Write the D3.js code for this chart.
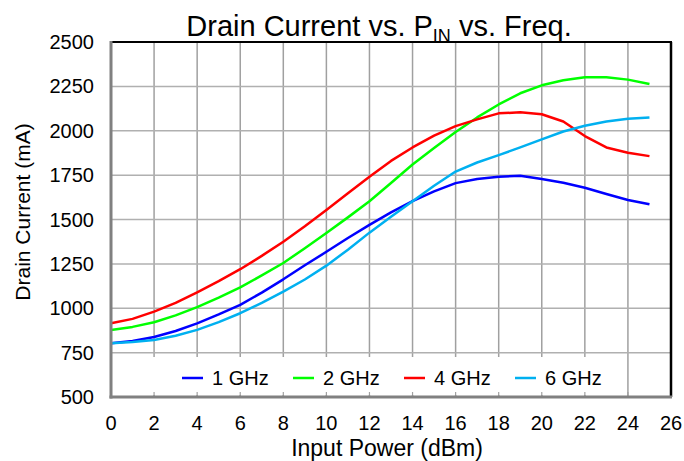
<html>
<head>
<script src="https://cdn.jsdelivr.net/npm/d3@7"></script>
<style>
  body { margin: 0; background: #fff; }
  text { font-family: "Liberation Sans", Arial, sans-serif; fill: #000; }
</style>
</head>
<body>
<svg width="684" height="461"></svg>
<script>
// input power (dBm)
const pin = [0, 1, 2, 3, 4, 5, 6, 7, 8, 9, 10, 11, 12, 13, 14, 15, 16, 17, 18, 19, 20, 21, 22, 23, 24, 25];

// drain current (mA) per frequency
const ghz1 = [803, 815, 838, 872, 915, 965, 1019, 1088, 1163, 1242, 1318, 1396, 1470, 1540, 1603, 1658, 1705, 1728, 1741, 1747, 1728, 1707, 1679, 1644, 1610, 1586];
const ghz2 = [878, 895, 921, 960, 1006, 1060, 1118, 1185, 1255, 1338, 1424, 1512, 1603, 1706, 1810, 1903, 1993, 2075, 2148, 2211, 2256, 2284, 2301, 2301, 2288, 2263];
const ghz4 = [915, 940, 981, 1030, 1090, 1153, 1220, 1295, 1375, 1462, 1554, 1648, 1741, 1830, 1906, 1972, 2026, 2064, 2098, 2104, 2093, 2052, 1970, 1906, 1876, 1857];
const ghz6 = [803, 810, 821, 845, 878, 922, 972, 1030, 1094, 1162, 1240, 1330, 1426, 1515, 1603, 1690, 1770, 1821, 1863, 1906, 1951, 1996, 2028, 2052, 2067, 2075];

const seriesNames = ["1 GHz", "2 GHz", "4 GHz", "6 GHz"];
const seriesColors = ["#0000ff", "#00ff00", "#ff0000", "#00b0f0"];
const xTicks = [0, 2, 4, 6, 8, 10, 12, 14, 16, 18, 20, 22, 24, 26];
const yTicks = [500, 750, 1000, 1250, 1500, 1750, 2000, 2250, 2500];

const svg = d3.select("svg");
const pL = 111, pR = 671, pT = 42, pB = 397;

const x = d3.scaleLinear().domain([0, 26]).range([pL, pR]);
const y = d3.scaleLinear().domain([500, 2500]).range([pB, pT]);

// grid
svg.append("g")
  .selectAll("line")
  .data(xTicks.slice(1, -1))
  .join("line")
  .attr("x1", d => x(d)).attr("x2", d => x(d))
  .attr("y1", pT).attr("y2", pB)
  .attr("stroke", "#a0a0a0").attr("stroke-width", 1.5);

svg.append("g")
  .selectAll("line")
  .data(yTicks.slice(1, -1))
  .join("line")
  .attr("x1", pL).attr("x2", pR)
  .attr("y1", d => y(d)).attr("y2", d => y(d))
  .attr("stroke", "#b0b0b0").attr("stroke-width", 1.5);

// data lines
const all = [ghz1, ghz2, ghz4, ghz6];
const line = d3.line().x((d, i) => x(pin[i])).y(d => y(d));

svg.append("g")
  .selectAll("path")
  .data(all)
  .join("path")
  .attr("d", line)
  .attr("fill", "none")
  .attr("stroke", (d, i) => seriesColors[i])
  .attr("stroke-width", 2.5)
  .attr("stroke-linejoin", "round");

// legend
const lg = svg.append("g");
lg.append("rect")
  .attr("x", pL + 2).attr("y", 357)
  .attr("width", 492).attr("height", 38)
  .attr("fill", "#fff");

const item = lg.selectAll("g")
  .data(seriesNames)
  .join("g")
  .attr("transform", (d, i) => `translate(${182 + i * 111},378)`);
item.append("line")
  .attr("x1", 0).attr("x2", 21)
  .attr("stroke", (d, i) => seriesColors[i])
  .attr("stroke-width", 2.5);
item.append("text")
  .attr("x", 30).attr("dy", "0.35em")
  .style("font-size", "20px")
  .text(d => d);

// inward ticks on bottom axis
svg.append("g")
  .selectAll("line")
  .data(xTicks.slice(1, -1))
  .join("line")
  .attr("x1", d => x(d)).attr("x2", d => x(d))
  .attr("y1", pB - 5).attr("y2", pB)
  .attr("stroke", "#a0a0a0").attr("stroke-width", 1.2);

// frame
svg.append("line").attr("x1", pL).attr("x2", pR + 1).attr("y1", pT).attr("y2", pT)
  .attr("stroke", "#000").attr("stroke-width", 2);
svg.append("line").attr("x1", pR).attr("x2", pR).attr("y1", pT).attr("y2", pB)
  .attr("stroke", "#000").attr("stroke-width", 2.5);
svg.append("line").attr("x1", pL).attr("x2", pL).attr("y1", pT - 1).attr("y2", pB + 1.5)
  .attr("stroke", "#808080").attr("stroke-width", 3);
svg.append("line").attr("x1", pL - 1.5).attr("x2", pR + 1).attr("y1", pB).attr("y2", pB)
  .attr("stroke", "#808080").attr("stroke-width", 3);

// tick labels
svg.append("g")
  .selectAll("text")
  .data(xTicks)
  .join("text")
  .attr("x", d => x(d)).attr("y", 430)
  .attr("text-anchor", "middle")
  .style("font-size", "20px")
  .text(d => d);

svg.append("g")
  .selectAll("text")
  .data(yTicks)
  .join("text")
  .attr("x", 94).attr("y", d => y(d))
  .attr("dy", "0.35em")
  .attr("text-anchor", "end")
  .style("font-size", "20px")
  .text(d => d);

// axis titles
svg.append("text")
  .attr("x", 387).attr("y", 456)
  .attr("text-anchor", "middle")
  .style("font-size", "23px")
  .text("Input Power (dBm)");

svg.append("text")
  .attr("transform", "translate(30,212) rotate(-90)")
  .attr("text-anchor", "middle")
  .style("font-size", "21px")
  .text("Drain Current (mA)");

// title
const title = svg.append("text")
  .attr("x", 379).attr("y", 36)
  .attr("text-anchor", "middle")
  .style("font-size", "29px");
title.append("tspan").text("Drain Current vs. P");
title.append("tspan").attr("dy", 6).style("font-size", "18px").text("IN");
title.append("tspan").attr("dy", -6).text(" vs. Freq.");
</script>
</body>
</html>
